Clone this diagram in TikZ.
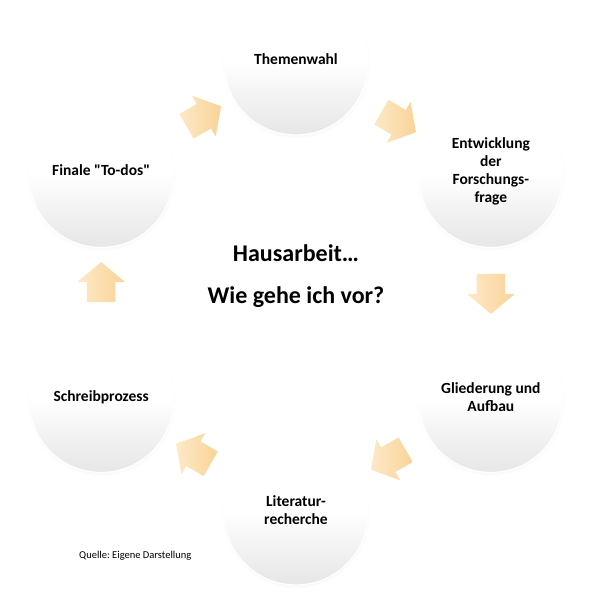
\documentclass[tikz,border=0pt]{standalone}
\usepackage{fontspec}
\setmainfont{Carlito}
\usetikzlibrary{calc, shapes.arrows, shadows}

% Shading for the discs: white on top, grey towards the bottom.
\pgfdeclareverticalshading{discshade}{100bp}{%
    color(0bp)=(black!10); color(27bp)=(black!9); color(38bp)=(black!5);
    color(50bp)=(white); color(100bp)=(white)}

\begin{document}
\begin{tikzpicture}[%
        x = 1pt,
        y = 1pt,
        stage/.style = {%
            circle,
            minimum size = 144pt,
            inner sep = 0pt,
            shading = discshade,
            draw = white,
            line width = 1.2pt,
            circular drop shadow = {%
                shadow xshift = 0pt,
                shadow yshift = -1.5pt,
                shadow scale = 1.03,
                opacity = 0.15
            }
        },
        stagetext/.style = {%
            align = center,
            font = \bfseries\fontsize{15.5}{18}\selectfont
        },
        flow/.style = {%
            single arrow,
            draw = none,
            inner xsep = 0pt,
            inner ysep = 14pt,
            minimum height = 40pt,
            single arrow head extend = 9.5pt,
            single arrow tip angle = 100,
            left color = arrowlight,
            right color = arrowdark,
            rotate = #1
        }
    ]

        % Start a group to locally define the arrow colours.
        \begingroup

            % Colours for the block arrows.
            \definecolor{arrowlight}{RGB}{253,233,200}
            \definecolor{arrowdark}{RGB}{249,211,152}

            % Fix the size of the picture.
            \useasboundingbox (0, 0) rectangle (597, 594);

            % Centre of the cycle.
            \coordinate (O) at (296, 306);

            % The six discs.
            \node[stage] (themen) at ($(O) + (90:225)$) {};
            \node[stage] (frage) at ($(O) + (30:225)$) {};
            \node[stage] (gliederung) at ($(O) + (-30:225)$) {};
            \node[stage] (literatur) at ($(O) + (-90:225)$) {};
            \node[stage] (schreiben) at ($(O) + (-150:225)$) {};
            \node[stage] (finale) at ($(O) + (150:225)$) {};

            % Labels in the discs.
            \node[stagetext] (themen text) at ([yshift = 4pt]themen.center) {Themenwahl};
            \node[stagetext] (frage text) at ([yshift = 4pt]frage.center) {Entwicklung\\der\\Forschungs-\\frage};
            \node[stagetext] (gliederung text) at ([yshift = 3pt]gliederung.center) {Gliederung und\\Aufbau};
            \node[stagetext] (literatur text) at ([yshift = 3pt]literatur.center) {Literatur-\\recherche};
            \node[stagetext] (schreiben text) at ([yshift = 3pt]schreiben.center) {Schreibprozess};
            \node[stagetext] (finale text) at ([yshift = 5pt]finale.center) {Finale \textquotedbl To-dos\textquotedbl};

            % Block arrows between the discs.
            \node[flow = 30] (f1) at ($(finale)!0.5!(themen)$) {};
            \node[flow = -30] (f2) at ($(themen)!0.5!(frage)$) {};
            \node[flow = -90] (f3) at ($(frage)!0.5!(gliederung)$) {};
            \node[flow = -150] (f4) at ($(gliederung)!0.5!(literatur)$) {};
            \node[flow = 150] (f5) at ($(literatur)!0.5!(schreiben)$) {};
            \node[flow = 90] (f6) at ($(schreiben)!0.5!(finale)$) {};

            % Title in the middle.
            \node[align = center, font = \bfseries\fontsize{24}{42}\selectfont]
                (title) at ([yshift = 12pt]O) {Hausarbeit…\\Wie gehe ich vor?};

            % Source.
            \node[right, inner sep = 0pt, font = \fontsize{10.5}{12}\selectfont\frenchspacing]
                (quelle) at (79, 38) {Quelle: Eigene Darstellung};
        \endgroup
    \end{tikzpicture}
\end{document}
